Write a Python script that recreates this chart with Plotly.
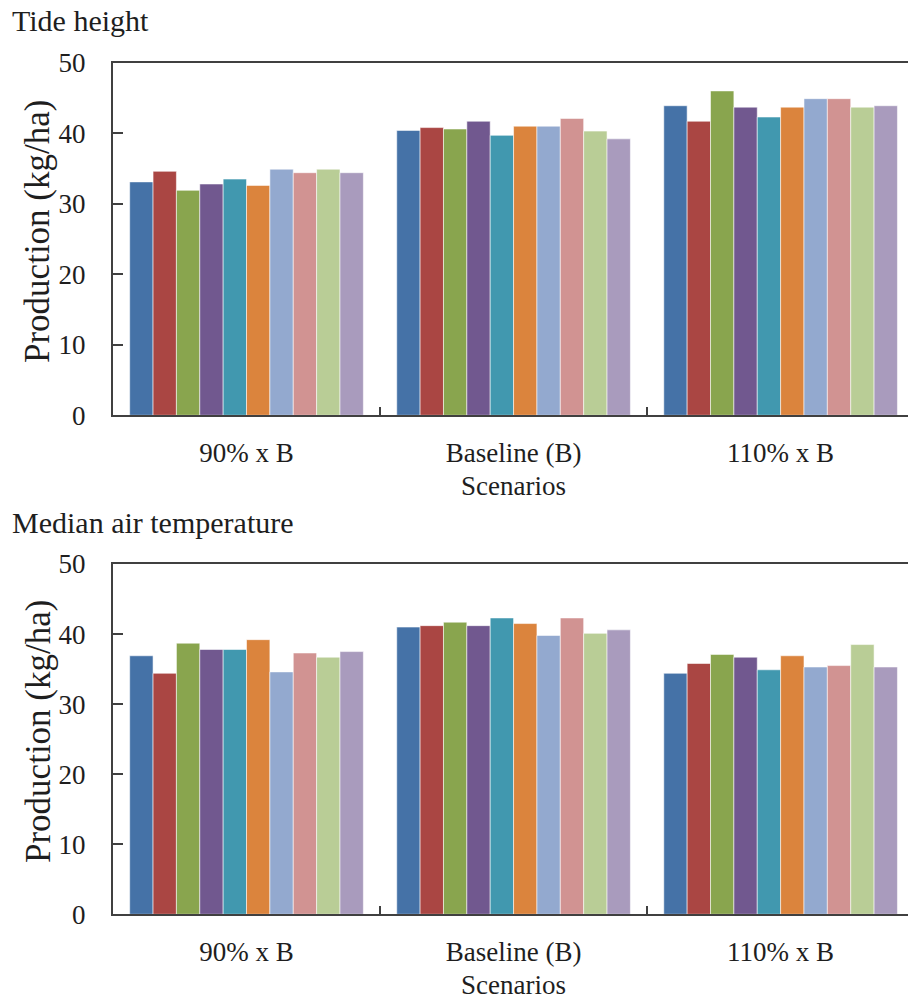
import plotly.graph_objects as go

scenarios = ["90% x B", "Baseline (B)", "110% x B"]
series_names = ["S1", "S2", "S3", "S4", "S5", "S6", "S7", "S8", "S9", "S10"]
series_colors = ["#4572A7", "#AA4643", "#89A54E", "#71588F", "#4198AF",
                 "#DB843D", "#93A9CF", "#D19392", "#B9CD96", "#A99BBD"]

# Production (kg/ha) per series, one value per scenario
tide_values = [
    [33.1, 40.4, 43.9],
    [34.6, 40.8, 41.7],
    [31.9, 40.6, 46.0],
    [32.8, 41.7, 43.7],
    [33.5, 39.7, 42.3],
    [32.6, 41.0, 43.7],
    [34.9, 41.0, 44.9],
    [34.4, 42.1, 44.9],
    [34.9, 40.3, 43.7],
    [34.4, 39.2, 43.9],
]
temp_values = [
    [36.9, 41.0, 34.4],
    [34.4, 41.2, 35.8],
    [38.7, 41.7, 37.1],
    [37.8, 41.2, 36.7],
    [37.8, 42.3, 34.9],
    [39.2, 41.5, 36.9],
    [34.6, 39.8, 35.3],
    [37.3, 42.3, 35.5],
    [36.7, 40.1, 38.5],
    [37.5, 40.6, 35.3],
]
y_ticks = [0, 10, 20, 30, 40, 50]

FONT = "Liberation Serif, Times New Roman, serif"
W, H = 908, 1000
X_LEFT = 113 / W

fig = go.Figure()

for panel, values in (("", tide_values), ("2", temp_values)):
    for name, color, vals in zip(series_names, series_colors, values):
        fig.add_trace(go.Bar(
            x=scenarios, y=vals, name=name,
            marker=dict(color=color, line=dict(color="rgba(255,255,255,0.55)", width=1)),
            xaxis="x" + panel, yaxis="y" + panel, showlegend=False,
        ))

axis_line = dict(showline=True, linecolor="#404040", linewidth=2)
tick_font = dict(family=FONT, size=27, color="#1e1e1e")

def x_axis(anchor):
    return dict(
        domain=[X_LEFT, 1], anchor=anchor, type="category", automargin=False,
        range=[-0.5, 2.477], mirror=True, ticks="inside", tickson="boundaries",
        ticklen=8, tickwidth=1.5, tickcolor="#404040",
        tickfont=tick_font, ticklabelstandoff=12, showgrid=False, zeroline=False,
        **axis_line,
    )

def y_axis(anchor, domain):
    return dict(
        domain=domain, anchor=anchor, range=[0, 50], tickvals=y_ticks,
        automargin=False,
        ticks="inside", ticklen=10, tickwidth=1.5, tickcolor="#404040",
        tickfont=tick_font, ticklabelstandoff=20, showgrid=False, zeroline=False,
        **axis_line,
    )

fig.update_layout(
    width=W, height=H,
    margin=dict(l=0, r=0, t=0, b=0, autoexpand=False),
    paper_bgcolor="white", plot_bgcolor="white",
    barmode="group", bargap=0.125, bargroupgap=0,
    font=dict(family=FONT, color="#1e1e1e"),
    xaxis=x_axis("y"),
    yaxis=y_axis("x", [1 - 415.3 / H, 1 - 62.7 / H]),
    xaxis2=x_axis("y2"),
    yaxis2=y_axis("x2", [1 - 914.3 / H, 1 - 564 / H]),
)

def label(text, x_px, y_px, size, angle=0, xanchor="center"):
    fig.add_annotation(
        text=text, x=x_px / W, y=1 - y_px / H, xref="paper", yref="paper",
        xanchor=xanchor, yanchor="middle", textangle=angle, showarrow=False,
        font=dict(family=FONT, size=size, color="#1e1e1e"),
    )

label("Tide height", 10, 20, 30, xanchor="left")
label("Median air temperature", 10, 522, 30, xanchor="left")
label("Production (kg/ha)", 38, 232, 35, angle=-90)
label("Production (kg/ha)", 38, 732, 35, angle=-90)
label("Scenarios", 513, 486, 27)
label("Scenarios", 513, 985, 27)

fig.write_html("out.html")
